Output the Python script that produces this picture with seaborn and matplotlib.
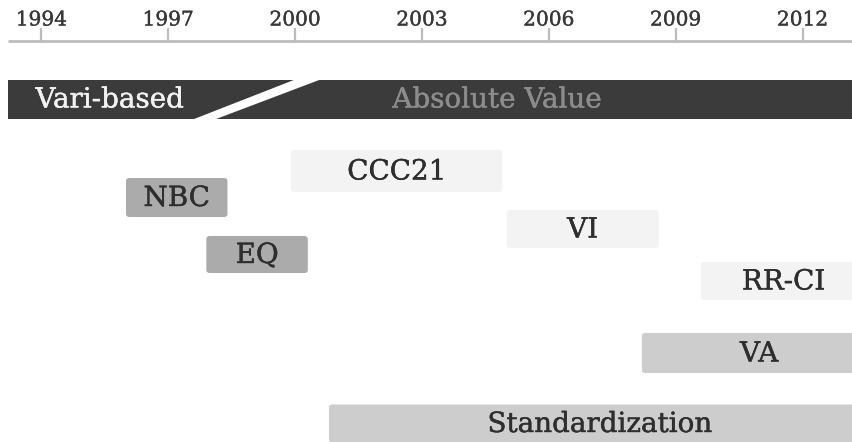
import matplotlib
matplotlib.use("Agg")
import matplotlib.pyplot as plt
import matplotlib.patheffects as pe
from matplotlib.patches import FancyBboxPatch, Polygon
import seaborn as sns

sns.set_theme(style="white")
plt.rcParams['font.family'] = ['DejaVu Serif', 'DejaVu Sans']

# ---- data ----
tick_years = [1994, 1997, 2000, 2003, 2006, 2009, 2012]

methods = ["NBC", "EQ", "CCC21", "VI", "RR-CI", "VA", "Standardization"]
starts = [1996.0, 1997.9, 1999.9, 2005.0, 2009.6, 2008.2, 2000.8]
ends = [1998.4, 2000.3, 2004.9, 2008.6, 2013.5, 2013.75, 2013.6]
rows = [197.5, 254.5, 171.0, 229.0, 281.0, 353.0, 423.5]
heights = [39, 37, 42, 38, 38, 40, 38]
shades = ["#ababab", "#ababab", "#f3f3f3", "#f3f3f3", "#f3f3f3", "#cdcdcd", "#cdcdcd"]

banner_labels = ["Vari-based", "Absolute Value"]
banner_label_pos = [1995.61, 2004.77]
banner_start, banner_end = 1993.22, 2013.3
stripe_bottom = (1997.58, 1998.1)
stripe_top = (2000.0, 2000.6)

# ---- figure ----
fig = plt.figure(figsize=(8.52, 4.42), dpi=100)
ax = fig.add_axes([0, 0, 1, 1])
ax.set_xlim(1993.02, 2013.17)
ax.set_ylim(442, 0)
ax.axis("off")

px_per_year = 42.26


def heavy(color, lw=0.3):
    return [pe.withStroke(linewidth=lw, foreground=color)]


# time axis
ax.hlines(41, banner_start, 2013.3, color="#bdbdbd", lw=2)
for y in tick_years:
    ax.vlines(y, 28, 41, color="#bdbdbd", lw=1.6)
    ax.text(y, 20, str(y), ha="center", va="center", fontsize=14.5, color="#383838",
            path_effects=heavy("#383838", 0.25))

# banner
ax.add_patch(plt.Rectangle((banner_start, 80), banner_end - banner_start, 39,
                           color="#3b3b3b", lw=0))
ax.add_patch(Polygon([(stripe_bottom[0], 119.5), (stripe_bottom[1], 119.5),
                      (stripe_top[1], 79.5), (stripe_top[0], 79.5)],
                     closed=True, color="white", lw=0))
ax.text(banner_label_pos[0], 100, banner_labels[0], ha="center", va="center",
        fontsize=20, color="#f2f2f2", path_effects=heavy("#f2f2f2"))
ax.text(banner_label_pos[1], 100, banner_labels[1], ha="center", va="center",
        fontsize=20, color="#8c8c8c", path_effects=heavy("#8c8c8c"))

# method boxes
for name, s, e, r, h, c in zip(methods, starts, ends, rows, heights, shades):
    ax.add_patch(FancyBboxPatch((s, r - h / 2), e - s, h,
                                boxstyle="round,pad=0,rounding_size=0.08",
                                mutation_aspect=px_per_year * 0.9,
                                facecolor=c, edgecolor="none"))
    ax.text((s + e) / 2, r + 1, name, ha="center", va="center",
            fontsize=20, color="#2e2e2e", path_effects=heavy("#2e2e2e"))

fig.savefig("out.png", dpi=100)
